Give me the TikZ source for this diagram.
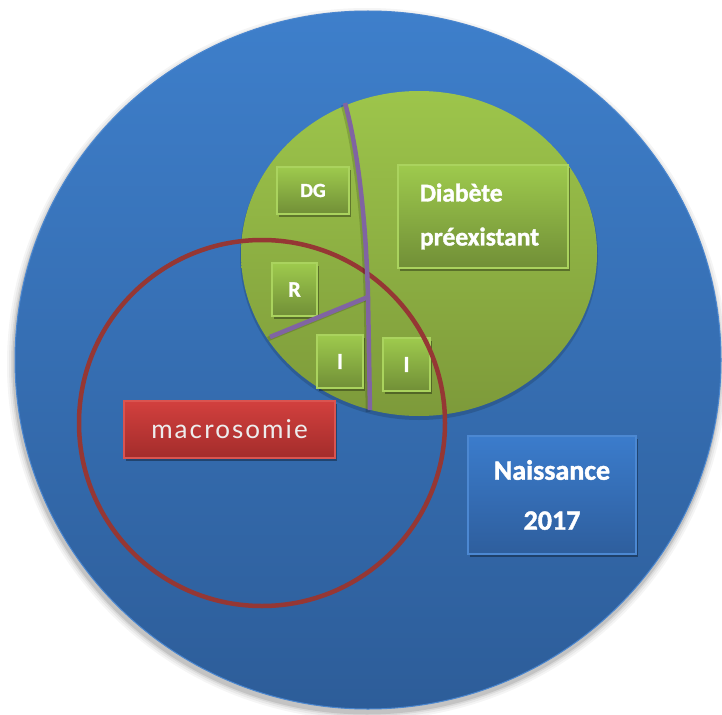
\documentclass[tikz,border=0pt]{standalone}
\usepackage{fontspec}
\setmainfont{Carlito}[BoldFeatures={FakeBold=1.5}]
\newfontfamily\macrofont[LetterSpace=8]{Lato}
\usetikzlibrary{shapes.geometric,shadows}
\definecolor{bluetop}{HTML}{3E7FCB}
\definecolor{bluebot}{HTML}{2D5D99}
\definecolor{blueedge}{HTML}{4A86CF}
\definecolor{greentop}{HTML}{9DC54B}
\definecolor{greenbot}{HTML}{7D9A3A}
\definecolor{gboxtop}{HTML}{9ECA4D}
\definecolor{gboxbot}{HTML}{718F37}
\definecolor{gboxedge}{HTML}{AAD35E}
\definecolor{redtop}{HTML}{D2403E}
\definecolor{redbot}{HTML}{A32C2B}
\definecolor{rededge}{HTML}{DA5450}
\definecolor{bboxtop}{HTML}{3B7CCC}
\definecolor{bboxbot}{HTML}{2E5E9D}
\definecolor{bboxedge}{HTML}{4C88D2}
\definecolor{ringred}{HTML}{953734}
\definecolor{divpurple}{HTML}{8064A2}
\definecolor{macrotext}{HTML}{EDEDED}
\tikzset{
  boxshadow/.style={drop shadow={shadow xshift=2pt,shadow yshift=-3pt,opacity=0.35,fill=black}},
  greenbox/.style={rectangle,inner sep=0pt,top color=gboxtop,bottom color=gboxbot,
    draw=gboxedge,line width=1.2pt,boxshadow,text=white,font=\bfseries},
  redbox/.style={rectangle,inner sep=0pt,top color=redtop,bottom color=redbot,
    draw=rededge,line width=1.2pt,boxshadow,text=macrotext},
  bluebox/.style={rectangle,inner sep=0pt,top color=bboxtop,bottom color=bboxbot,
    draw=bboxedge,line width=1.2pt,boxshadow,text=white,font=\bfseries},
  ring/.style={circle,inner sep=0pt,draw=ringred,line width=4.5pt},
  divider/.style={draw=divpurple,line width=4.5pt,line join=round},
  dividershadow/.style={draw=black,opacity=0.15,line width=4.5pt,line join=round}
}
\begin{document}
\begin{tikzpicture}[x=1pt,y=-1pt]
\useasboundingbox (0,0) rectangle (722,714);
% soft shadow of the large disc
\foreach \r/\o in {7/0.04,5/0.05,3/0.07,1.5/0.1}
  \fill[black,opacity=\o] (367,364) ellipse [x radius=353+\r, y radius=349+\r];
% large disc
\node[ellipse,inner sep=0pt,minimum width=706pt,minimum height=698pt,
  top color=bluetop,bottom color=bluebot,draw=blueedge,line width=1pt] (univ) at (368,360) {};
% green disc shadow and disc
\fill[black,opacity=0.15] (419,256) ellipse [x radius=179, y radius=164];
\node[ellipse,inner sep=0pt,minimum width=356pt,minimum height=325pt,
  top color=greentop,bottom color=greenbot] (diab) at (419,253.5) {};
% green boxes
\node[greenbox,minimum width=72pt,minimum height=47pt,font=\bfseries\fontsize{20}{22}\selectfont] (dg) at (313,190.5) {DG};
\node[greenbox,minimum width=170pt,minimum height=103pt,inner xsep=22pt,text width=126pt,align=left,
  font=\bfseries\fontsize{25.5}{44}\selectfont] (pre) at (483,216.5) {Diabète\\préexistant};
\node[greenbox,minimum width=45pt,minimum height=53pt,font=\bfseries\fontsize{22}{24}\selectfont] (r) at (294.5,289.5) {R};
\node[greenbox,minimum width=46pt,minimum height=53pt,font=\bfseries\fontsize{23}{25}\selectfont] (i1) at (340,361.5) {I};
\node[greenbox,minimum width=47pt,minimum height=53pt,font=\bfseries\fontsize{23}{25}\selectfont] (i2) at (406.5,364.5) {I};
% red box
\node[redbox,minimum width=211pt,minimum height=57pt,font=\macrofont\fontsize{26}{28}\selectfont] (macro) at (229.5,429.5) {macrosomie};
% blue box
\node[bluebox,minimum width=168pt,minimum height=118pt,align=center,
  font=\bfseries\fontsize{28}{50}\selectfont] (nais) at (552,495) {Naissance\\2017};
% macrosomia ring
\node[ring,minimum size=366pt] (macroring) at (262,423) {};
% dividers
\coordinate (ptop) at (345,103);
\coordinate (pj) at (368,297);
\coordinate (pbot) at (370,410);
\coordinate (pleft) at (270,337);
\path[dividershadow] ([shift={(-2,2)}]ptop) .. controls (356,152) and (364,222) .. ([shift={(-2,2)}]pj) -- ([shift={(-2,2)}]pbot);
\path[dividershadow] ([shift={(-2,2)}]pj) -- ([shift={(-2,2)}]pleft);
\path[divider] (ptop) .. controls (358,150) and (366,220) .. (pj) -- (pbot);
\path[divider] (pj) -- (pleft);
\end{tikzpicture}
\end{document}
